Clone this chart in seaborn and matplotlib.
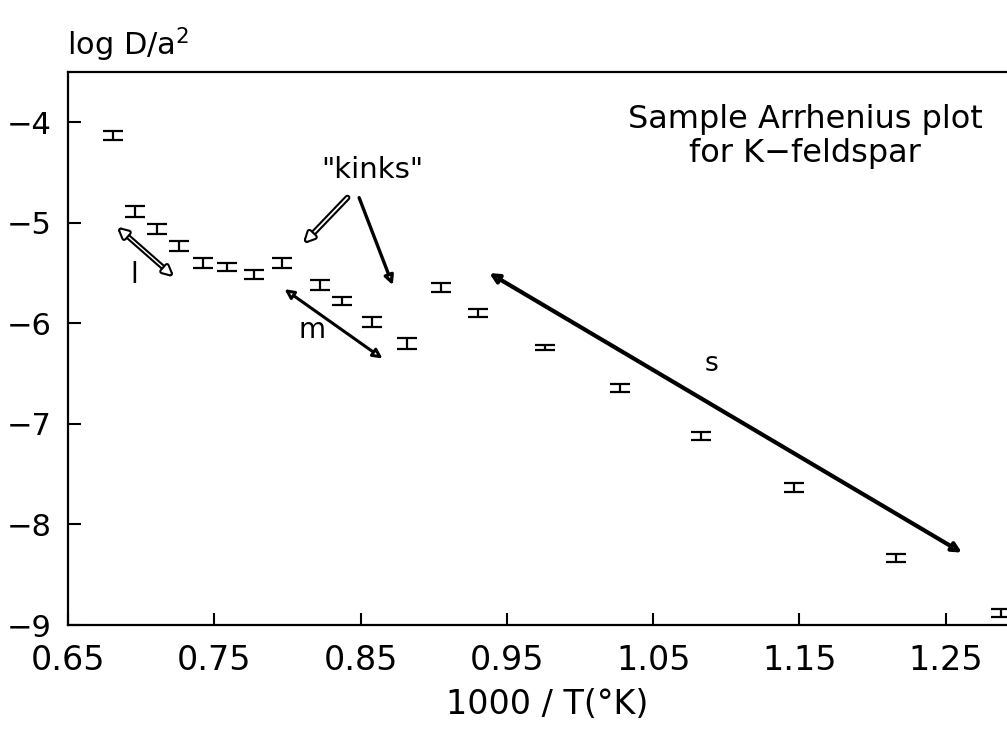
import matplotlib
matplotlib.use("Agg")
import matplotlib.pyplot as plt
import matplotlib.patheffects as pe
import numpy as np
import pandas as pd
import seaborn as sns

sns.set_theme(style="ticks")
plt.rcParams["font.family"] = ["DejaVu Sans"]
plt.rcParams["text.color"] = "black"
plt.rcParams["axes.labelcolor"] = "black"

# ---- data ----
inv_temp = [0.681, 0.696, 0.711, 0.726, 0.742, 0.759, 0.777, 0.796, 0.822, 0.837,
            0.858, 0.882, 0.905, 0.930, 0.976, 1.027, 1.083, 1.146, 1.216, 1.288]
log_d = [-4.13, -4.89, -5.06, -5.23, -5.40, -5.44, -5.51, -5.40, -5.62, -5.78,
         -5.99, -6.20, -5.64, -5.90, -6.24, -6.64, -7.12, -7.63, -8.33, -8.88]
err = [0.045, 0.055, 0.05, 0.05, 0.05, 0.04, 0.045, 0.05, 0.05, 0.04,
       0.05, 0.05, 0.045, 0.04, 0.025, 0.04, 0.04, 0.045, 0.04, 0.04]

x_ticks = [0.65, 0.75, 0.85, 0.95, 1.05, 1.15, 1.25]
y_ticks = [-4, -5, -6, -7, -8, -9]

# arrows: (start x, start y, end x, end y)
arrow_l = (0.685, -5.06, 0.721, -5.52)
arrow_m = (0.798, -5.66, 0.865, -6.35)
arrow_kink1 = (0.841, -4.75, 0.812, -5.19)
arrow_kink2 = (0.849, -4.75, 0.872, -5.62)
arrow_s = (0.938, -5.50, 1.261, -8.28)

df = pd.DataFrame({"x": inv_temp, "y": log_d, "err": err})

fig = plt.figure(figsize=(10.07, 7.33), dpi=100)
# axes runs past the right edge, as in the cropped scan
ax = fig.add_axes([0.0675, 0.1473, 1.017, 0.7545])

ax.errorbar(df["x"], df["y"], yerr=df["err"], fmt="none", ecolor="black",
            elinewidth=1.6, capsize=7, capthick=1.6)

ax.set_xlim(0.65, 1.35)
ax.set_ylim(-9, -3.5)
ax.set_xticks(x_ticks)
ax.set_yticks(y_ticks)
ax.set_xticklabels([f"{v:.2f}" for v in x_ticks], fontsize=24)
ax.set_yticklabels(["\u2212" + str(abs(v)) for v in y_ticks], fontsize=22)
ax.tick_params(axis="x", direction="in", length=9, width=1.5, pad=14,
               colors="black", top=False)
ax.tick_params(axis="y", direction="in", length=9, width=1.5, pad=12,
               colors="black", right=False)
for side in ["left", "bottom", "top", "right"]:
    ax.spines[side].set_linewidth(1.6)
    ax.spines[side].set_color("black")
ax.grid(False)


def draw_arrow(coords, style, lw, hollow=False):
    x0, y0, x1, y1 = coords
    ann = ax.annotate("", xy=(x1, y1), xytext=(x0, y0),
                      arrowprops=dict(arrowstyle=style, lw=lw, color="black",
                                      fc="white", shrinkA=0, shrinkB=0,
                                      mutation_scale=9))
    if hollow:
        ann.arrow_patch.set_path_effects(
            [pe.Stroke(linewidth=lw + 2.5, foreground="black"),
             pe.Stroke(linewidth=lw - 0.5, foreground="white")])


draw_arrow(arrow_l, "<|-|>,head_length=0.6,head_width=0.3", 1.5, hollow=True)
draw_arrow(arrow_m, "<|-|>,head_length=0.6,head_width=0.3", 2.2)
draw_arrow(arrow_kink1, "-|>,head_length=0.6,head_width=0.3", 1.8, hollow=True)
draw_arrow(arrow_kink2, "-|>,head_length=0.6,head_width=0.3", 2.4)
draw_arrow(arrow_s, "<|-|>,head_length=0.6,head_width=0.3", 3.0)

ax.text(0.695, -5.52, "l", fontsize=20, ha="center", va="center")
ax.text(0.817, -6.07, "m", fontsize=20, ha="center", va="center")
ax.text(1.090, -6.40, "s", fontsize=19, ha="center", va="center")
ax.text(0.858, -4.55, "\"kinks\"", fontsize=21, ha="center", va="baseline")
ax.text(1.154, -4.14, "Sample Arrhenius plot\nfor K\u2212feldspar", fontsize=23,
        ha="center", va="center", linespacing=1.1)

fig.text(67 / 1007, 1 - 55 / 733, "log D/a$^2$", fontsize=22,
         ha="left", va="baseline")
fig.text(547 / 1007, 1 - 705 / 733, "1000 / T(\u00b0K)", fontsize=24,
         ha="center", va="center")

fig.savefig("out.png", dpi=100)
